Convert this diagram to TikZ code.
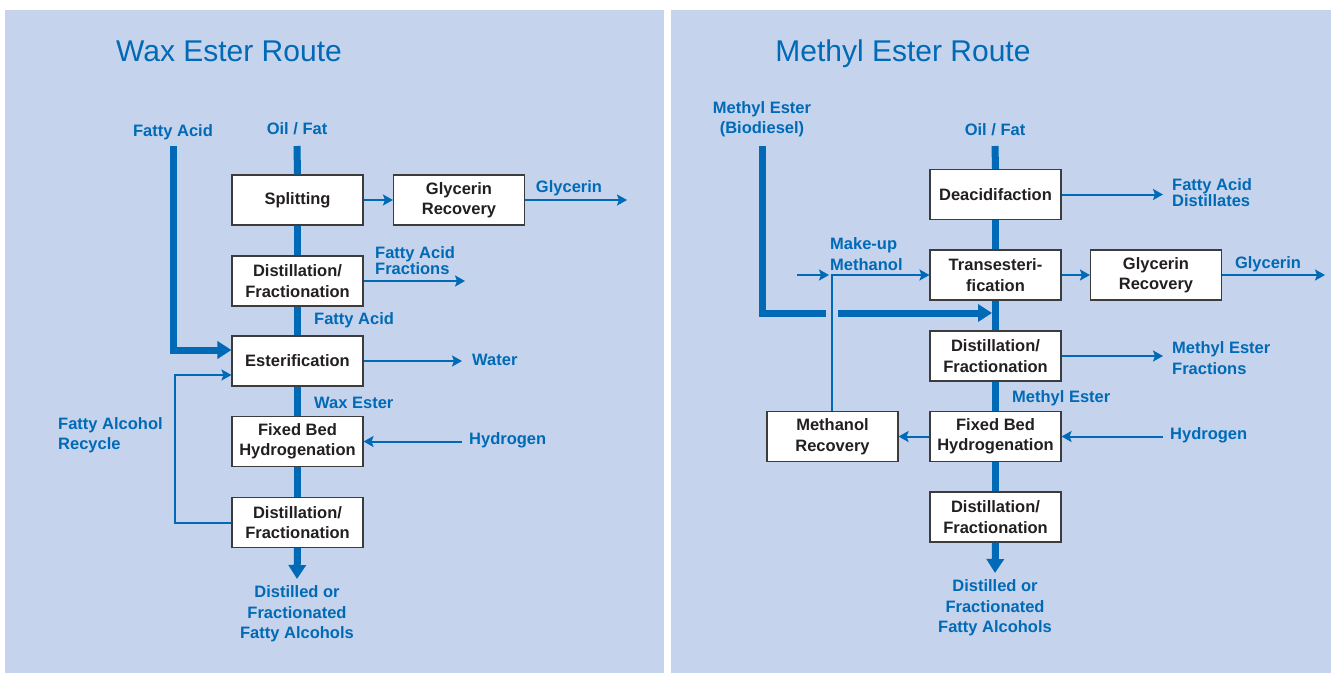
\documentclass[tikz,border=0pt]{standalone}
\usepackage{fontspec}
\setmainfont{Liberation Sans}
\usetikzlibrary{arrows.meta}
\definecolor{panelbg}{RGB}{197,211,236}
\definecolor{flowblue}{RGB}{0,106,182}
\definecolor{boxline}{RGB}{60,60,60}
\definecolor{boxtext}{RGB}{35,31,32}
\begin{document}
\begin{tikzpicture}[
        x=1pt, y=-1pt,
        box/.style={draw=boxline, line width=1.1pt, fill=white, minimum width=131pt, minimum height=50pt,
            align=center, text=boxtext, font=\fontsize{16.5}{20.5}\selectfont\bfseries, inner sep=0pt},
        lbl/.style={text=flowblue, font=\fontsize{16.5}{20.5}\selectfont\bfseries, inner sep=0pt},
        title/.style={text=flowblue, font=\fontsize{30}{32}\selectfont, inner sep=0pt, anchor=base},
        main/.style={draw=flowblue, line width=7pt},
        mainarrow/.style={main, -{Triangle[length=14pt, width=17pt]}},
        feed/.style={draw=flowblue, line width=2pt},
        feedarrow/.style={feed, -{Stealth[length=10pt, width=11pt, inset=2pt]}}
    ]
        \useasboundingbox (0,0) rectangle (1338,673);
        \fill[panelbg] (5,10) rectangle (664,673);
        \fill[panelbg] (671,10) rectangle (1331,673);

        % Wax Ester Route
        \node[title] (titleW) at (229,61) {Wax Ester Route};
        \node[lbl] (oilW) at (297,129) {Oil / Fat};
        \node[lbl] (faW) at (173,132) {Fatty Acid};
        \coordinate (oilWtop) at (297,146);
        \coordinate (faWtop) at (173,146);
        \node[box] (split) at (297.5,200) {Splitting};
        \node[box] (glyW) at (459,200) {Glycerin\\Recovery};
        \node[box] (distA) at (297.5,281) {Distillation/\\Fractionation};
        \node[box] (ester) at (297.5,361) {Esterification};
        \node[box] (hydW) at (297.5,441.5) {Fixed Bed\\Hydrogenation};
        \node[box] (distB) at (297.5,522.5) {Distillation/\\Fractionation};
        \coordinate (outW) at (297,579);
        \coordinate (glyWout) at (627,200);
        \coordinate (fracWout) at (465,281);
        \coordinate (waterout) at (462,361);
        \coordinate (h2Win) at (462,441.5);

        \draw[main] (oilWtop) -- (split.north);
        \draw[main] (split.south) -- (distA.north);
        \draw[main] (distA.south) -- (ester.north);
        \draw[main] (ester.south) -- (hydW.north);
        \draw[main] (hydW.south) -- (distB.north);
        \draw[mainarrow] (distB.south) -- (outW);
        \draw[mainarrow] (faWtop) -- (173,350) -- ([yshift=11pt]ester.west);
        \draw[feedarrow] (split) -- (glyW);
        \draw[feedarrow] (glyW) -- (glyWout);
        \draw[feedarrow] (distA) -- (fracWout);
        \draw[feedarrow] (ester) -- (waterout);
        \draw[feedarrow] (h2Win) -- (hydW);
        \draw[feedarrow] (distB.west) -- (175,522.5) -- (175,375) -- ([yshift=-14pt]ester.west);

        \node[lbl] at (569,188) {Glycerin};
        \node[lbl, anchor=west, align=left, font=\fontsize{16.5}{16}\selectfont\bfseries] at (375,261) {Fatty Acid\\Fractions};
        \node[lbl, anchor=west] at (314,320) {Fatty Acid};
        \node[lbl, anchor=west] at (472,360) {Water};
        \node[lbl, anchor=west] at (469,440) {Hydrogen};
        \node[lbl, anchor=west] at (314,403) {Wax Ester};
        \node[lbl, anchor=west, align=left] at (58,435) {Fatty Alcohol\\Recycle};
        \node[lbl, align=center] at (297,614) {Distilled or\\Fractionated\\Fatty Alcohols};

        % Methyl Ester Route
        \node[title] (titleM) at (903,61) {Methyl Ester Route};
        \node[lbl] (oilM) at (995,130) {Oil / Fat};
        \node[lbl, align=center] (meM) at (762,119) {Methyl Ester\\(Biodiesel)};
        \coordinate (oilMtop) at (995,146);
        \coordinate (meMtop) at (762,146);
        \node[box] (deac) at (995.5,194.5) {Deacidifaction};
        \node[box] (trans) at (995.5,275) {Transesteri-\\fication};
        \node[box] (glyM) at (1156,275) {Glycerin\\Recovery};
        \node[box] (distC) at (995.5,356) {Distillation/\\Fractionation};
        \node[box] (hydM) at (995.5,436.5) {Fixed Bed\\Hydrogenation};
        \node[box] (distD) at (995.5,517) {Distillation/\\Fractionation};
        \node[box] (methrec) at (832.5,436.5) {Methanol\\Recovery};
        \coordinate (outM) at (995,573);
        \coordinate (fadout) at (1163,194.5);
        \coordinate (glyMout) at (1325,275);
        \coordinate (fracMout) at (1163,356);
        \coordinate (h2Min) at (1163,436.5);
        \coordinate (meohin) at (797,275);
        \coordinate (meohjoin) at (832,275);

        \draw[main] (oilMtop) -- (deac.north);
        \draw[main] (deac.south) -- (trans.north);
        \draw[main] (trans.south) -- (distC.north);
        \draw[main] (distC.south) -- (hydM.north);
        \draw[main] (hydM.south) -- (distD.north);
        \draw[mainarrow] (distD.south) -- (outM);
        \draw[main] (meMtop) -- (762,313) -- (826,313);
        \draw[mainarrow] (838,313) -- (992,313);
        \draw[feedarrow] (deac) -- (fadout);
        \draw[feedarrow] (trans) -- (glyM);
        \draw[feedarrow] (glyM) -- (glyMout);
        \draw[feedarrow] (distC) -- (fracMout);
        \draw[feedarrow] (h2Min) -- (hydM);
        \draw[feedarrow] (hydM) -- (methrec);
        \draw[feedarrow] (meohin) -- ([xshift=-3pt]meohjoin);
        \draw[feedarrow] (methrec.north -| meohjoin) -- (meohjoin) -- (trans.west);

        \node[lbl, anchor=west, align=left, font=\fontsize{16.5}{16}\selectfont\bfseries] at (1172,193) {Fatty Acid\\Distillates};
        \node[lbl] at (1268,264) {Glycerin};
        \node[lbl, anchor=west, align=left] at (830,254) {Make-up\\Methanol};
        \node[lbl, anchor=west, align=left] at (1172,358) {Methyl Ester\\Fractions};
        \node[lbl, anchor=west] at (1012,398) {Methyl Ester};
        \node[lbl, anchor=west] at (1170,435) {Hydrogen};
        \node[lbl, align=center] at (995,608) {Distilled or\\Fractionated\\Fatty Alcohols};
    \end{tikzpicture}
\end{document}
